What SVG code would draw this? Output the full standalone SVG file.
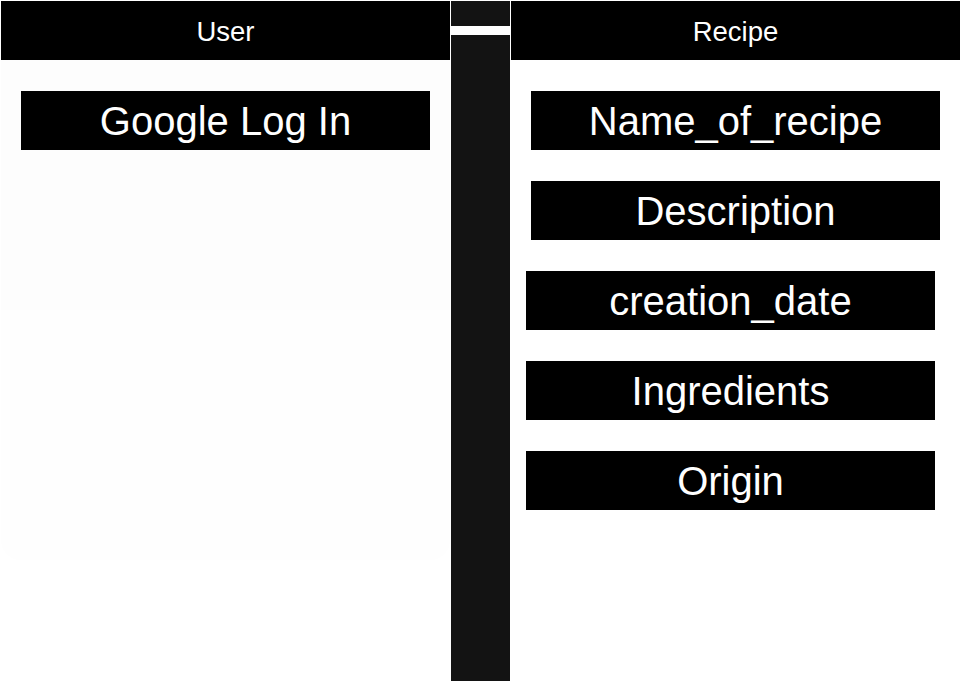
<svg xmlns="http://www.w3.org/2000/svg" width="961" height="681" viewBox="0 0 961 681">
<style>
.hdr{fill:#000}
.box{fill:#000}
.ht{font-family:"Liberation Sans",Arial,sans-serif;font-size:27.5px;fill:#fff;text-anchor:middle}
.bt{font-family:"Liberation Sans",Arial,sans-serif;font-size:40px;fill:#fff;text-anchor:middle}
</style>
<rect x="0" y="0" width="961" height="681" fill="#fff"/>
<rect x="1" y="40" width="449" height="520" rx="20" fill="#fefefe"/>
<rect x="1" y="60" width="449" height="250" fill="#fdfdfd"/>
<g id="divider">
<rect x="451" y="1" width="59" height="680" fill="#131313"/>
<rect x="451" y="26" width="59" height="9" fill="#fff"/>
</g>
<g id="user">
<rect class="hdr" x="1" y="1" width="449" height="59"/>
<text class="ht" x="225.5" y="40.5">User</text>
</g>
<g id="recipe">
<rect class="hdr" x="511" y="1" width="449" height="59"/>
<text class="ht" x="735.5" y="40.5">Recipe</text>
</g>
<g id="google-log-in">
<rect class="box" x="21" y="91" width="409" height="59"/>
<text class="bt" x="225.5" y="135">Google Log In</text>
</g>
<g id="name-of-recipe">
<rect class="box" x="531" y="91" width="409" height="59"/>
<text class="bt" x="735.5" y="135">Name_of_recipe</text>
</g>
<g id="description">
<rect class="box" x="531" y="181" width="409" height="59"/>
<text class="bt" x="735.5" y="225">Description</text>
</g>
<g id="creation-date">
<rect class="box" x="526" y="271" width="409" height="59"/>
<text class="bt" x="730.5" y="315">creation_date</text>
</g>
<g id="ingredients">
<rect class="box" x="526" y="361" width="409" height="59"/>
<text class="bt" x="730.5" y="405">Ingredients</text>
</g>
<g id="origin">
<rect class="box" x="526" y="451" width="409" height="59"/>
<text class="bt" x="730.5" y="495">Origin</text>
</g>
<g id="connectors"></g>
</svg>
